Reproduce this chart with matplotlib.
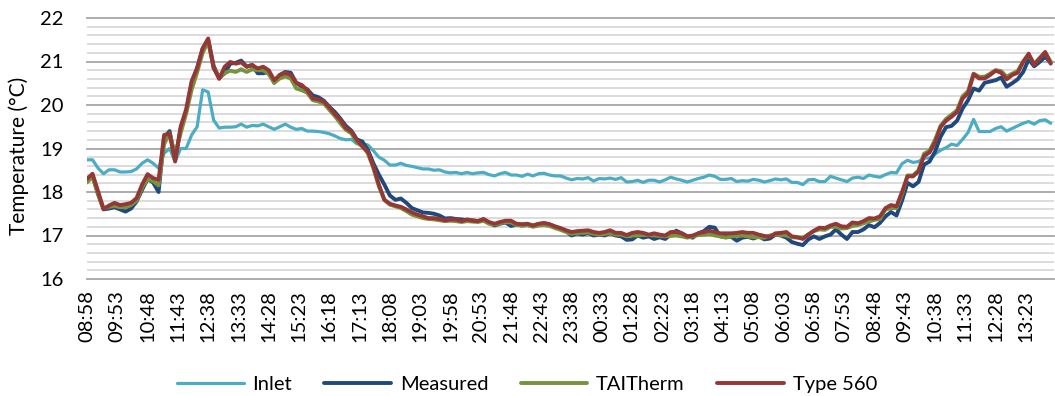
import numpy as np
import matplotlib
matplotlib.use("Agg")
import matplotlib.pyplot as plt
from matplotlib.ticker import FixedLocator

# ---------------- data (10-minute samples starting 08:58) ----------------
tick_labels = ["08:58", "09:53", "10:48", "11:43", "12:38", "13:33", "14:28", "15:23",
               "16:18", "17:13", "18:08", "19:03", "19:58", "20:53", "21:48", "22:43",
               "23:38", "00:33", "01:28", "02:23", "03:18", "04:13", "05:08", "06:03",
               "06:58", "07:53", "08:48", "09:43", "10:38", "11:33", "12:28", "13:23"]

inlet = [18.74, 18.74, 18.55, 18.42, 18.51, 18.51, 18.46, 18.46, 18.47, 18.53, 18.66, 18.74, 18.66,
         18.55, 18.89, 19.00, 18.70, 19.00, 19.00, 19.31, 19.50, 20.35, 20.30, 19.65, 19.47,
         19.49, 19.49, 19.50, 19.56, 19.49, 19.53, 19.52, 19.56, 19.50, 19.44, 19.50, 19.56, 19.49,
         19.44, 19.46, 19.40, 19.40, 19.39, 19.37, 19.34, 19.29, 19.23, 19.20, 19.21, 19.11,
         19.11, 19.08, 18.95, 18.80, 18.73, 18.62, 18.62, 18.66, 18.61, 18.59, 18.56, 18.53, 18.53,
         18.50, 18.51, 18.46, 18.44, 18.45, 18.42, 18.45, 18.42, 18.44, 18.45, 18.40, 18.37,
         18.42, 18.45, 18.39, 18.39, 18.36, 18.41, 18.37, 18.42, 18.43, 18.39, 18.37, 18.37, 18.32,
         18.28, 18.31, 18.30, 18.33, 18.25, 18.31, 18.30, 18.32, 18.29, 18.33, 18.23,
         18.24, 18.27, 18.22, 18.27, 18.27, 18.23, 18.28, 18.34, 18.30, 18.27, 18.23, 18.27, 18.31,
         18.34, 18.39, 18.36, 18.29, 18.29, 18.31, 18.24, 18.26, 18.25, 18.29, 18.27, 18.23,
         18.26, 18.30, 18.28, 18.30, 18.22, 18.22, 18.17, 18.28, 18.29, 18.24, 18.24, 18.36, 18.32,
         18.28, 18.24, 18.32, 18.34, 18.31, 18.39, 18.36, 18.34, 18.40, 18.45, 18.44, 18.65,
         18.73, 18.68, 18.70, 18.78, 18.78, 18.87, 18.96, 19.02, 19.10, 19.07, 19.21, 19.37, 19.67,
         19.39, 19.39, 19.39, 19.46, 19.50, 19.40, 19.46, 19.52, 19.58, 19.62, 19.56, 19.64, 19.66, 19.58]

measured = [18.25, 18.38, 17.95, 17.60, 17.62, 17.65, 17.60, 17.55, 17.62, 17.78, 18.05, 18.30, 18.22,
            18.00, 19.25, 19.40, 18.75, 19.45, 19.85, 20.50, 20.85, 21.30, 21.50, 20.90, 20.62,
            20.73, 20.95, 20.97, 21.02, 20.88, 20.92, 20.73, 20.73, 20.76, 20.51, 20.69, 20.76, 20.74,
            20.51, 20.42, 20.36, 20.22, 20.18, 20.10, 19.96, 19.84, 19.69, 19.52, 19.41, 19.21,
            19.16, 18.97, 18.66, 18.40, 18.17, 17.92, 17.82, 17.85, 17.75, 17.63, 17.58, 17.53, 17.52,
            17.50, 17.46, 17.39, 17.40, 17.38, 17.37, 17.35, 17.35, 17.33, 17.37, 17.29, 17.23,
            17.27, 17.30, 17.22, 17.25, 17.23, 17.24, 17.22, 17.26, 17.27, 17.25, 17.20, 17.15, 17.10,
            17.00, 17.05, 17.02, 17.06, 17.00, 17.02, 17.00, 17.06, 17.00, 16.98, 16.90,
            16.91, 17.00, 16.95, 16.98, 16.92, 16.96, 16.92, 17.02, 17.11, 17.05, 16.98, 16.95, 17.05,
            17.10, 17.20, 17.18, 16.98, 16.97, 16.97, 16.88, 16.95, 16.97, 16.93, 16.98, 16.91,
            16.93, 17.02, 17.00, 16.95, 16.85, 16.81, 16.78, 16.91, 16.98, 16.92, 16.98, 17.02, 17.14,
            17.02, 16.92, 17.08, 17.08, 17.14, 17.24, 17.19, 17.29, 17.44, 17.54, 17.46, 17.80,
            18.21, 18.13, 18.23, 18.63, 18.70, 18.93, 19.27, 19.49, 19.52, 19.64, 19.92, 20.11, 20.38,
            20.33, 20.51, 20.54, 20.57, 20.63, 20.42, 20.50, 20.59, 20.76, 21.05, 20.89, 20.99, 21.11, 20.97]

taitherm = [18.22, 18.35, 17.95, 17.62, 17.66, 17.68, 17.65, 17.65, 17.70, 17.80, 18.10, 18.30, 18.25,
            18.15, 19.10, 19.35, 18.85, 19.35, 19.80, 20.35, 20.75, 21.20, 21.45, 20.85, 20.65,
            20.73, 20.79, 20.76, 20.82, 20.76, 20.82, 20.80, 20.80, 20.71, 20.51, 20.61, 20.66, 20.61,
            20.38, 20.34, 20.28, 20.11, 20.08, 20.04, 19.89, 19.75, 19.58, 19.43, 19.35, 19.14,
            19.05, 18.89, 18.55, 18.13, 17.82, 17.71, 17.67, 17.63, 17.56, 17.48, 17.44, 17.40, 17.38,
            17.37, 17.35, 17.33, 17.34, 17.33, 17.31, 17.33, 17.32, 17.31, 17.34, 17.27, 17.25,
            17.28, 17.31, 17.30, 17.24, 17.23, 17.24, 17.20, 17.23, 17.24, 17.22, 17.17, 17.13, 17.08,
            17.04, 17.06, 17.06, 17.07, 17.04, 17.02, 17.03, 17.07, 17.02, 17.02, 16.98,
            17.00, 17.00, 17.01, 17.01, 17.00, 16.99, 16.98, 16.99, 17.00, 16.98, 16.95, 16.98, 17.01,
            17.02, 17.04, 17.00, 16.98, 16.95, 16.98, 16.99, 17.00, 16.98, 16.96, 16.96, 16.95,
            17.00, 17.02, 17.01, 17.00, 16.96, 16.95, 16.94, 17.03, 17.10, 17.14, 17.13, 17.20, 17.20,
            17.16, 17.17, 17.22, 17.24, 17.28, 17.32, 17.36, 17.38, 17.60, 17.63, 17.63, 17.95,
            18.38, 18.38, 18.50, 18.88, 18.95, 19.20, 19.52, 19.68, 19.78, 19.88, 20.20, 20.32, 20.72,
            20.65, 20.65, 20.72, 20.80, 20.78, 20.65, 20.72, 20.78, 21.00, 21.15, 20.95, 21.08, 21.20, 21.00]

type560 = [18.30, 18.42, 18.02, 17.61, 17.69, 17.75, 17.70, 17.72, 17.75, 17.86, 18.17, 18.41, 18.32,
           18.28, 19.31, 19.34, 18.70, 19.50, 19.90, 20.55, 20.85, 21.30, 21.53, 20.85, 20.60,
           20.88, 20.99, 20.95, 20.98, 20.88, 20.92, 20.84, 20.88, 20.80, 20.57, 20.69, 20.74, 20.69,
           20.51, 20.46, 20.34, 20.15, 20.13, 20.08, 19.95, 19.79, 19.66, 19.47, 19.39, 19.20,
           19.05, 18.93, 18.59, 18.17, 17.82, 17.73, 17.69, 17.66, 17.60, 17.53, 17.48, 17.44, 17.40,
           17.40, 17.38, 17.35, 17.37, 17.37, 17.33, 17.37, 17.34, 17.33, 17.38, 17.31, 17.27,
           17.31, 17.34, 17.34, 17.27, 17.26, 17.27, 17.23, 17.27, 17.29, 17.26, 17.21, 17.17, 17.12,
           17.08, 17.10, 17.11, 17.12, 17.08, 17.06, 17.08, 17.12, 17.06, 17.06, 17.01,
           17.06, 17.08, 17.06, 17.02, 17.05, 17.02, 17.00, 17.08, 17.08, 17.05, 16.98, 17.00, 17.05,
           17.08, 17.11, 17.08, 17.05, 17.05, 17.05, 17.06, 17.08, 17.06, 17.06, 17.02, 16.99,
           16.97, 17.05, 17.06, 17.08, 16.98, 16.96, 16.92, 17.02, 17.11, 17.18, 17.17, 17.23, 17.27,
           17.21, 17.20, 17.30, 17.28, 17.33, 17.40, 17.39, 17.44, 17.63, 17.70, 17.67, 18.00,
           18.36, 18.36, 18.47, 18.83, 18.91, 19.14, 19.49, 19.64, 19.73, 19.84, 20.15, 20.27, 20.71,
           20.61, 20.61, 20.69, 20.79, 20.74, 20.59, 20.69, 20.74, 20.99, 21.18, 20.92, 21.07, 21.22, 20.95]

series_names = ["Inlet", "Measured", "TAITherm", "Type 560"]
series_colors = ["#4BACC6", "#1F497D", "#77933C", "#953735"]

# ---------------- plot ----------------
FONT = "Lato"
FS = 14.5
plt.rcParams["font.family"] = [FONT, "DejaVu Sans"]

fig = plt.figure(figsize=(10.55, 3.96), dpi=100)
ax = fig.add_axes([87 / 1055, 1 - 279 / 396, 967 / 1055, 261 / 396])

STEP = 10      # minutes between samples
TICK = 55      # minutes between labels

series = [inlet, measured, taitherm, type560]
widths = [2.3, 2.8, 2.8, 2.8]
handles = []
for vals, name, col, lw in zip(series, series_names, series_colors, widths):
    x = np.arange(len(vals)) * STEP
    h, = ax.plot(x, vals, color=col, lw=lw, label=name, solid_joinstyle="round",
                 solid_capstyle="round", zorder=3)
    handles.append(h)

ax.set_xlim(0, 1756)
ax.set_ylim(16, 22)

ax.xaxis.set_major_locator(FixedLocator(np.arange(len(tick_labels)) * TICK))
ax.set_xticklabels(tick_labels, rotation=90, fontsize=FS)
ax.set_yticks(np.arange(16, 23, 1))
ax.set_yticks(np.arange(16, 22.01, 0.2), minor=True)
ax.tick_params(axis="y", which="both", length=0, pad=17, labelsize=FS)
ax.tick_params(axis="x", which="both", length=0, pad=8)

ax.grid(which="major", axis="y", color="#A6A6A6", lw=1.3, zorder=1)
ax.grid(which="minor", axis="y", color="#D9D9D9", lw=1.3, zorder=0)
ax.grid(which="both", axis="x", visible=False)
for ln in ax.yaxis.get_gridlines():
    ln.set_clip_on(False)
for s in ax.spines.values():
    s.set_visible(False)

fig.text(19 / 1055, 1 - 156 / 396, "Temperature (°C)", rotation=90,
         ha="center", va="center", fontsize=FS + 0.5)

fig.legend(handles=handles, loc="center", bbox_to_anchor=(527 / 1055, 1 - 384 / 396),
           ncol=4, frameon=False, fontsize=FS, handlelength=3.3, columnspacing=1.6,
           handletextpad=0.45)

fig.savefig("out.png", dpi=100)
